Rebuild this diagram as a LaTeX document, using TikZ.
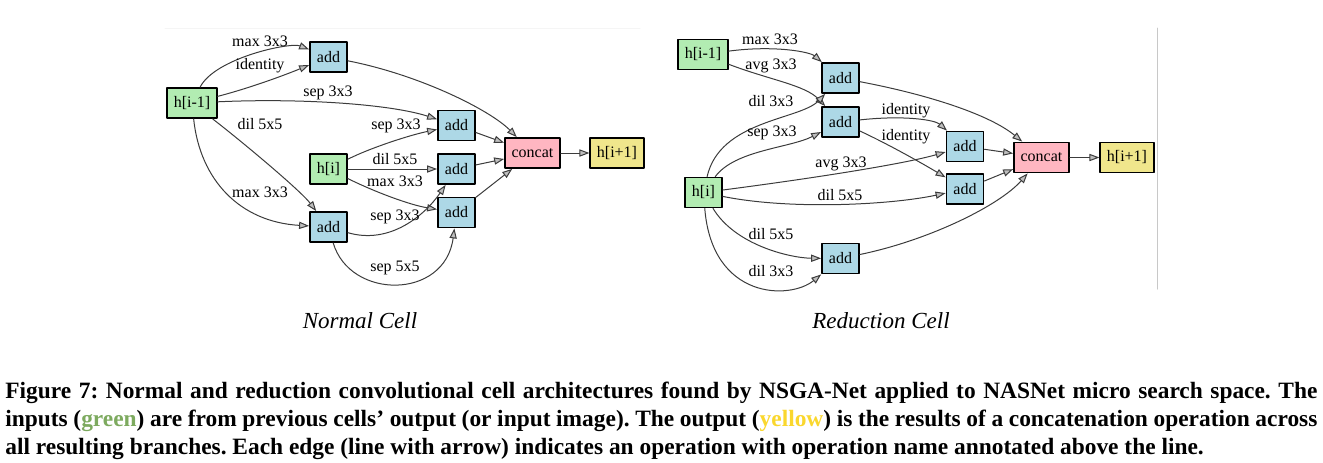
\documentclass[tikz,border=0pt]{standalone}
\usepackage{fontspec}
\setmainfont{Liberation Serif}
\usepackage{tikz}
\usetikzlibrary{arrows.meta}
\definecolor{inbox}{RGB}{178,236,178}
\definecolor{addbox}{RGB}{173,216,230}
\definecolor{catbox}{RGB}{255,182,193}
\definecolor{outbox}{RGB}{240,230,140}
\definecolor{edgegray}{RGB}{60,60,60}
\definecolor{tipgray}{RGB}{190,190,190}
\definecolor{rulegray}{RGB}{200,200,200}
\definecolor{capgreen}{RGB}{125,170,95}
\definecolor{capyellow}{RGB}{250,215,45}
\frenchspacing

\begin{document}
\begin{tikzpicture}[line cap=round,line join=round,x=0.5pt,y=-0.5pt,
  cell/.style={draw=black,line width=0.9pt,minimum width=18.5pt,minimum height=15pt,inner xsep=3.3pt,inner ysep=0pt,font=\fontsize{8}{9}\selectfont},
  inp/.style={cell,fill=inbox},
  addn/.style={cell,fill=addbox},
  cat/.style={cell,fill=catbox},
  outp/.style={cell,fill=outbox},
  op/.style={draw=edgegray,line width=0.5pt,-{Triangle[length=5pt,width=3.6pt,fill=tipgray]}},
  lbl/.style={inner sep=0pt,font=\fontsize{8}{9}\selectfont},
  title/.style={inner sep=0pt,anchor=base,font=\itshape\fontsize{11.5}{13}\selectfont},
  capline/.style={inner sep=0pt,anchor=base west,font=\bfseries\fontsize{11.7}{14}\selectfont}]
\useasboundingbox (0,0) rectangle (1323,462);
\draw [gray!8,line width=0.5pt] (165,28) -- (640,28);
\draw [rulegray,line width=0.5pt] (1157.7,28) -- (1157.7,289);

\node[inp] (hp) at (192,103) {h[i-1]};
\node[addn] (a1) at (328.5,57) {add};
\node[addn] (a2) at (456.5,125.5) {add};
\node[inp] (hi) at (328.5,169) {h[i]};
\node[addn] (a3) at (456.5,169) {add};
\node[addn] (a4) at (456.5,212.5) {add};
\node[addn] (a5) at (328.5,227) {add};
\node[cat] (cc) at (532.5,153) {concat};
\node[outp] (ho) at (617,153) {h[i+1]};

\draw[op] (hp) .. controls (215,58) and (290,42) .. (a1);
\draw[op] (hp) .. controls (250,88) and (285,75) .. (a1);
\draw[op] (hp) .. controls (300,98) and (390,104) .. (a2);
\draw[op] (hp) .. controls (240,140) and (300,190) .. (a5);
\draw[op] (hp) .. controls (200,180) and (240,222) .. (a5);
\draw[op] (hi) .. controls (370,148) and (410,135) .. (a2);
\draw[op] (hi) -- (a3);
\draw[op] (hi) .. controls (375,192) and (410,205) .. (a4);
\draw[op] (a5) .. controls (390,245) and (425,215) .. (a3);
\draw[op] (a5) .. controls (350,300) and (445,300) .. (a4);
\draw[op] (a1) .. controls (420,75) and (490,110) .. (cc);
\draw[op] (a2) -- (cc);
\draw[op] (a3) -- (cc);
\draw[op] (a4) -- (cc);
\draw[op] (cc) -- (ho);

\node[lbl] (l1) at (260,41) {max 3x3};
\node[lbl] (l2) at (260,66) {identity};
\node[lbl] (l3) at (328,93) {sep 3x3};
\node[lbl] (l4) at (260,124) {dil 5x5};
\node[lbl] (l5) at (396,126) {sep 3x3};
\node[lbl] (l6) at (395,159.5) {dil 5x5};
\node[lbl] (l7) at (395,181) {max 3x3};
\node[lbl] (l8) at (260,192) {max 3x3};
\node[lbl] (l9) at (395,217) {sep 3x3};
\node[lbl] (l10) at (395,268) {sep 5x5};

\node[inp] (rhp) at (703,54.5) {h[i-1]};
\node[addn] (ra) at (840.5,78) {add};
\node[addn] (rb) at (840.5,122) {add};
\node[addn] (rc) at (965,146.5) {add};
\node[addn] (rd) at (965,189) {add};
\node[inp] (rhi) at (703.5,192.5) {h[i]};
\node[addn] (re) at (840.5,258.5) {add};
\node[cat] (rcc) at (1041.5,157.5) {concat};
\node[outp] (rho) at (1127,157.5) {h[i+1]};

\draw[op] (rhp) .. controls (775,45) and (810,52) .. (ra);
\draw[op] (rhp) .. controls (770,80) and (805,85) .. (rb);
\draw[op] (rhi) .. controls (720,120) and (800,120) .. (ra);
\draw[op] (rhi) .. controls (735,150) and (790,148) .. (rb);
\draw[op] (rb) .. controls (905,115) and (935,120) .. (rc);
\draw[op] (rb) .. controls (890,145) and (925,165) .. (rd);
\draw[op] (rhi) .. controls (800,180) and (900,165) .. (rc);
\draw[op] (rhi) .. controls (790,210) and (890,205) .. (rd);
\draw[op] (rhi) .. controls (735,245) and (790,258) .. (re);
\draw[op] (rhi) .. controls (712,300) and (790,300) .. (re);
\draw[op] (ra) .. controls (930,95) and (990,115) .. (rcc);
\draw[op] (rc) -- (rcc);
\draw[op] (rd) -- (rcc);
\draw[op] (re) .. controls (930,240) and (1000,205) .. (rcc);
\draw[op] (rcc) -- (rho);

\node[lbl] (r1) at (770,39) {max 3x3};
\node[lbl] (r2) at (771,66) {avg 3x3};
\node[lbl] (r3) at (771,101) {dil 3x3};
\node[lbl] (r4) at (772,133) {sep 3x3};
\node[lbl] (r5) at (906,111) {identity};
\node[lbl] (r6) at (906,137) {identity};
\node[lbl] (r7) at (841,164) {avg 3x3};
\node[lbl] (r8) at (840,195) {dil 5x5};
\node[lbl] (r9) at (771,234) {dil 5x5};
\node[lbl] (r10) at (771,271) {dil 3x3};

\node[title] (t1) at (360,328) {Normal Cell};
\node[title] (t2) at (881,328) {Reduction Cell};

\node[capline] (c1) at (5,398) {\makebox[656pt][s]{Figure 7: Normal and reduction convolutional cell architectures found by NSGA-Net applied to NASNet micro search space. The}};
\node[capline] (c2) at (5,426) {\makebox[656pt][s]{inputs (\textcolor{capgreen}{green}) are from previous cells’ output (or input image). The output (\textcolor{capyellow}{yellow}) is the results of a concatenation operation across}};
\node[capline] (c3) at (5,454) {all resulting branches. Each edge (line with arrow) indicates an operation with operation name annotated above the line.};
\end{tikzpicture}
\end{document}
